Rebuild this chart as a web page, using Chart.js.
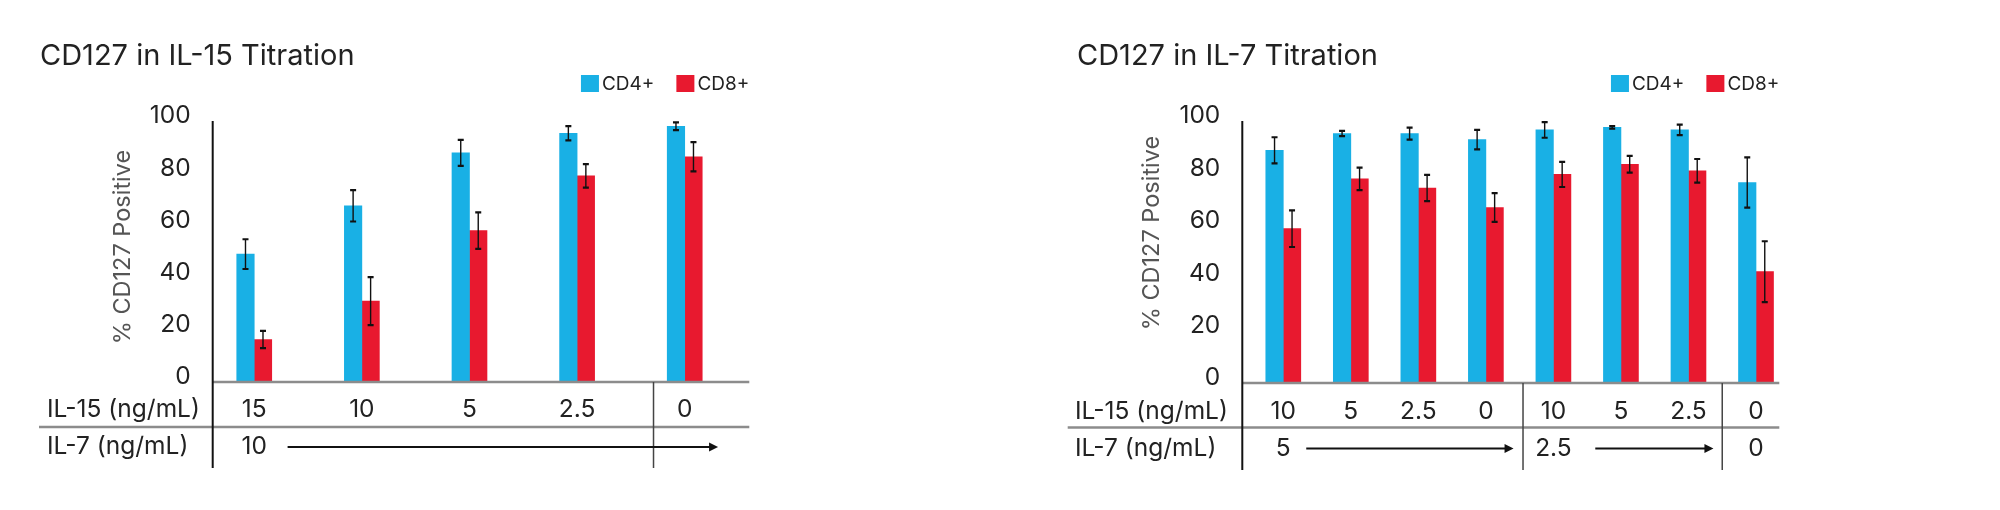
<!DOCTYPE html>
<html lang="en">
  <head>
    <meta charset="UTF-8" />
    <title>CD127 Titration</title>
    <style>
      body {
        margin: 0;
        width: 2000px;
        height: 510px;
        overflow: hidden;
        position: relative;
        background-color: #ffffff;
        font-family: Inter, "Open Sans", sans-serif;
      }

      .panel {
        position: absolute;
        top: 0;
        width: 1000px;
        height: 510px;
      }
    </style>
  </head>
  <body>
    <div class="panel" style="left: 0px"><canvas id="chartIL15"></canvas></div>
    <div class="panel" style="left: 1000px"><canvas id="chartIL7"></canvas></div>

    <script src="https://cdn.jsdelivr.net/npm/chart.js"></script>
    <script>
      // left panel: IL-15 titration, IL-7 kept at 10 ng/mL
      var il15Doses1 = ["15", "10", "5", "2.5", "0"];
      var il7Doses1 = ["10"];
      var il7Start1 = [0]; // category index where each IL-7 label sits
      var cd4Values1 = [49, 67.5, 87.8, 95.3, 98];
      var cd4Errors1 = [5.7, 6, 5, 2.7, 1.5];
      var cd8Values1 = [16.3, 31, 58, 79, 86.3];
      var cd8Errors1 = [3.3, 9.2, 7, 4.5, 5.6];

      // right panel: IL-7 titration crossed with IL-15
      var il15Doses2 = ["10", "5", "2.5", "0", "10", "5", "2.5", "0"];
      var il7Doses2 = ["5", "2.5", "0"];
      var il7Start2 = [0, 4, 7];
      var cd4Values2 = [88.8, 95.2, 95.2, 92.9, 96.6, 97.6, 96.6, 76.5];
      var cd4Errors2 = [5, 1, 2.3, 3.7, 3, 0.5, 2, 9.6];
      var cd8Values2 = [58.9, 77.9, 74.4, 67, 79.6, 83.5, 81, 42.5];
      var cd8Errors2 = [7, 4.3, 5, 5.5, 4.8, 3.2, 4.5, 11.6];

      var yTicks = [0, 20, 40, 60, 80, 100];
      var seriesNames = ["CD4+", "CD8+"];
      var seriesColors = ["#19b0e5", "#e8192f"];

      var FONT = "Inter, 'Open Sans', sans-serif";
      var TEXT = "#222222";

      // draws title, legend, axis lines, error bars and the dose table under the bars
      var tablePlugin = {
        id: "doseTable",
        afterDatasetsDraw: function (chart) {
          var o = chart.options.plugins.doseTable;
          var ctx = chart.ctx;
          var area = chart.chartArea;
          var xs = chart.scales.x;
          var ys = chart.scales.y;
          ctx.save();

          // error bars
          chart.data.datasets.forEach(function (ds, i) {
            var meta = chart.getDatasetMeta(i);
            meta.data.forEach(function (bar, j) {
              var v = ds.data[j].y;
              var e = o.errors[i][j];
              var top = ys.getPixelForValue(v + e);
              var bot = ys.getPixelForValue(v - e);
              ctx.strokeStyle = "#111";
              ctx.lineWidth = 1.4;
              ctx.beginPath();
              ctx.moveTo(bar.x, top);
              ctx.lineTo(bar.x, bot);
              ctx.stroke();
              ctx.lineWidth = 2.2;
              ctx.beginPath();
              ctx.moveTo(bar.x - 3, top);
              ctx.lineTo(bar.x + 3, top);
              ctx.moveTo(bar.x - 3, bot);
              ctx.lineTo(bar.x + 3, bot);
              ctx.stroke();
            });
          });

          // baseline and table rule
          ctx.strokeStyle = "#8c8c8c";
          ctx.lineWidth = 2.5;
          ctx.beginPath();
          ctx.moveTo(area.left, area.bottom);
          ctx.lineTo(area.right, area.bottom);
          ctx.stroke();
          ctx.beginPath();
          ctx.moveTo(o.ruleStart, o.ruleY);
          ctx.lineTo(area.right, o.ruleY);
          ctx.stroke();

          // y axis line running down through the table
          ctx.strokeStyle = "#111";
          ctx.lineWidth = 2;
          ctx.beginPath();
          ctx.moveTo(area.left, area.top);
          ctx.lineTo(area.left, o.tableBottom);
          ctx.stroke();

          // group dividers
          ctx.strokeStyle = "#444";
          ctx.lineWidth = 1.5;
          o.dividers.forEach(function (d) {
            var px = xs.getPixelForValue(d);
            ctx.beginPath();
            ctx.moveTo(px, area.bottom);
            ctx.lineTo(px, o.tableBottom);
            ctx.stroke();
          });

          // arrows in the IL-7 row
          ctx.strokeStyle = "#111";
          ctx.fillStyle = "#111";
          ctx.lineWidth = 2;
          o.arrows.forEach(function (a) {
            var x0 = xs.getPixelForValue(a[0]);
            var x1 = xs.getPixelForValue(a[1]);
            ctx.beginPath();
            ctx.moveTo(x0, o.row2Y);
            ctx.lineTo(x1 - 6, o.row2Y);
            ctx.stroke();
            ctx.beginPath();
            ctx.moveTo(x1, o.row2Y);
            ctx.lineTo(x1 - 9, o.row2Y - 4.5);
            ctx.lineTo(x1 - 9, o.row2Y + 4.5);
            ctx.closePath();
            ctx.fill();
          });

          // row labels and dose values
          ctx.fillStyle = TEXT;
          ctx.font = "24.5px " + FONT;
          ctx.textBaseline = "middle";
          ctx.textAlign = "left";
          ctx.fillText("IL-15 (ng/mL)", o.rowLabelX, o.row1Y);
          ctx.fillText("IL-7 (ng/mL)", o.rowLabelX, o.row2Y);
          ctx.textAlign = "center";
          o.il15.forEach(function (lbl, i) {
            ctx.fillText(lbl, xs.getPixelForValue(i), o.row1Y);
          });
          o.il7.forEach(function (lbl, i) {
            ctx.fillText(lbl, xs.getPixelForValue(o.il7At[i]), o.row2Y);
          });

          // title
          ctx.textAlign = "left";
          ctx.textBaseline = "alphabetic";
          ctx.font = "29px " + FONT;
          ctx.fillText(o.title, o.titleX, 65);

          // y axis title
          ctx.save();
          ctx.translate(area.left - 90, o.yTitleY);
          ctx.rotate(-Math.PI / 2);
          ctx.font = "23.5px " + FONT;
          ctx.fillStyle = "#555555";
          ctx.textAlign = "center";
          ctx.textBaseline = "middle";
          ctx.fillText("% CD127 Positive", 0, 0);
          ctx.restore();

          // legend, right aligned to the plot
          ctx.font = "19px " + FONT;
          ctx.textBaseline = "middle";
          ctx.textAlign = "left";
          var widths = seriesNames.map(function (n) {
            return ctx.measureText(n).width;
          });
          var lx = area.right - (18 + 3 + widths[0] + 22 + 18 + 3 + widths[1]);
          seriesNames.forEach(function (n, i) {
            ctx.fillStyle = seriesColors[i];
            ctx.fillRect(lx, 75, 18, 17);
            ctx.fillStyle = TEXT;
            ctx.fillText(n, lx + 21, 84);
            lx += 21 + widths[i] + 22;
          });

          ctx.restore();
        },
      };

      function makeChart(id, doses, cd4, cd8, errs, table, xMin, xMax, padding) {
        var ctx = document.getElementById(id).getContext("2d");
        var values = [cd4, cd8];
        return new Chart(ctx, {
          type: "bar",
          data: {
            datasets: seriesNames.map(function (name, i) {
              return {
                label: name,
                backgroundColor: seriesColors[i],
                borderWidth: 0,
                barThickness: 17.5,
                data: values[i].map(function (v, j) {
                  return { x: j, y: v };
                }),
              };
            }),
          },
          options: {
            responsive: true,
            maintainAspectRatio: false,
            animation: false,
            devicePixelRatio: 1,
            layout: { padding: padding },
            scales: {
              x: {
                type: "linear",
                min: xMin,
                max: xMax,
                offset: false,
                display: false,
              },
              y: {
                min: 0,
                max: 100,
                afterFit: function (scale) {
                  scale.width = 100;
                },
                afterBuildTicks: function (scale) {
                  scale.ticks = yTicks.map(function (v) {
                    return { value: v };
                  });
                },
                grid: { display: false, drawTicks: false },
                border: { display: false },
                ticks: {
                  padding: 22,
                  labelOffset: -5,
                  color: TEXT,
                  font: { family: FONT, size: 24.5 },
                },
              },
            },
            plugins: {
              legend: { display: false },
              tooltip: { enabled: false },
              doseTable: Object.assign({ il15: doses, errors: errs }, table),
            },
          },
          plugins: [tablePlugin],
        });
      }

      makeChart(
        "chartIL15",
        il15Doses1,
        cd4Values1,
        cd8Values1,
        [cd4Errors1, cd8Errors1],
        {
          title: "CD127 in IL-15 Titration",
          titleX: 40,
          il7: il7Doses1,
          il7At: il7Start1,
          dividers: [3.71],
          arrows: [[0.31, 4.31]],
          rowLabelX: 47,
          row1Y: 410,
          row2Y: 447,
          ruleY: 427,
          ruleStart: 39,
          tableBottom: 468,
          yTitleY: 247,
        },
        -0.386,
        4.6,
        { left: 112.7, right: 250.7, top: 121, bottom: 128 }
      );

      makeChart(
        "chartIL7",
        il15Doses2,
        cd4Values2,
        cd8Values2,
        [cd4Errors2, cd8Errors2],
        {
          title: "CD127 in IL-7 Titration",
          titleX: 77,
          il7: il7Doses2,
          il7At: il7Start2,
          dividers: [3.55, 6.5],
          arrows: [
            [0.34, 3.41],
            [4.62, 6.37],
          ],
          rowLabelX: 75,
          row1Y: 411.5,
          row2Y: 448.5,
          ruleY: 427.5,
          ruleStart: 67.7,
          tableBottom: 470,
          yTitleY: 233,
        },
        -0.607,
        7.345,
        { left: 142.3, right: 220.7, top: 121, bottom: 127 }
      );
    </script>
  </body>
</html>
